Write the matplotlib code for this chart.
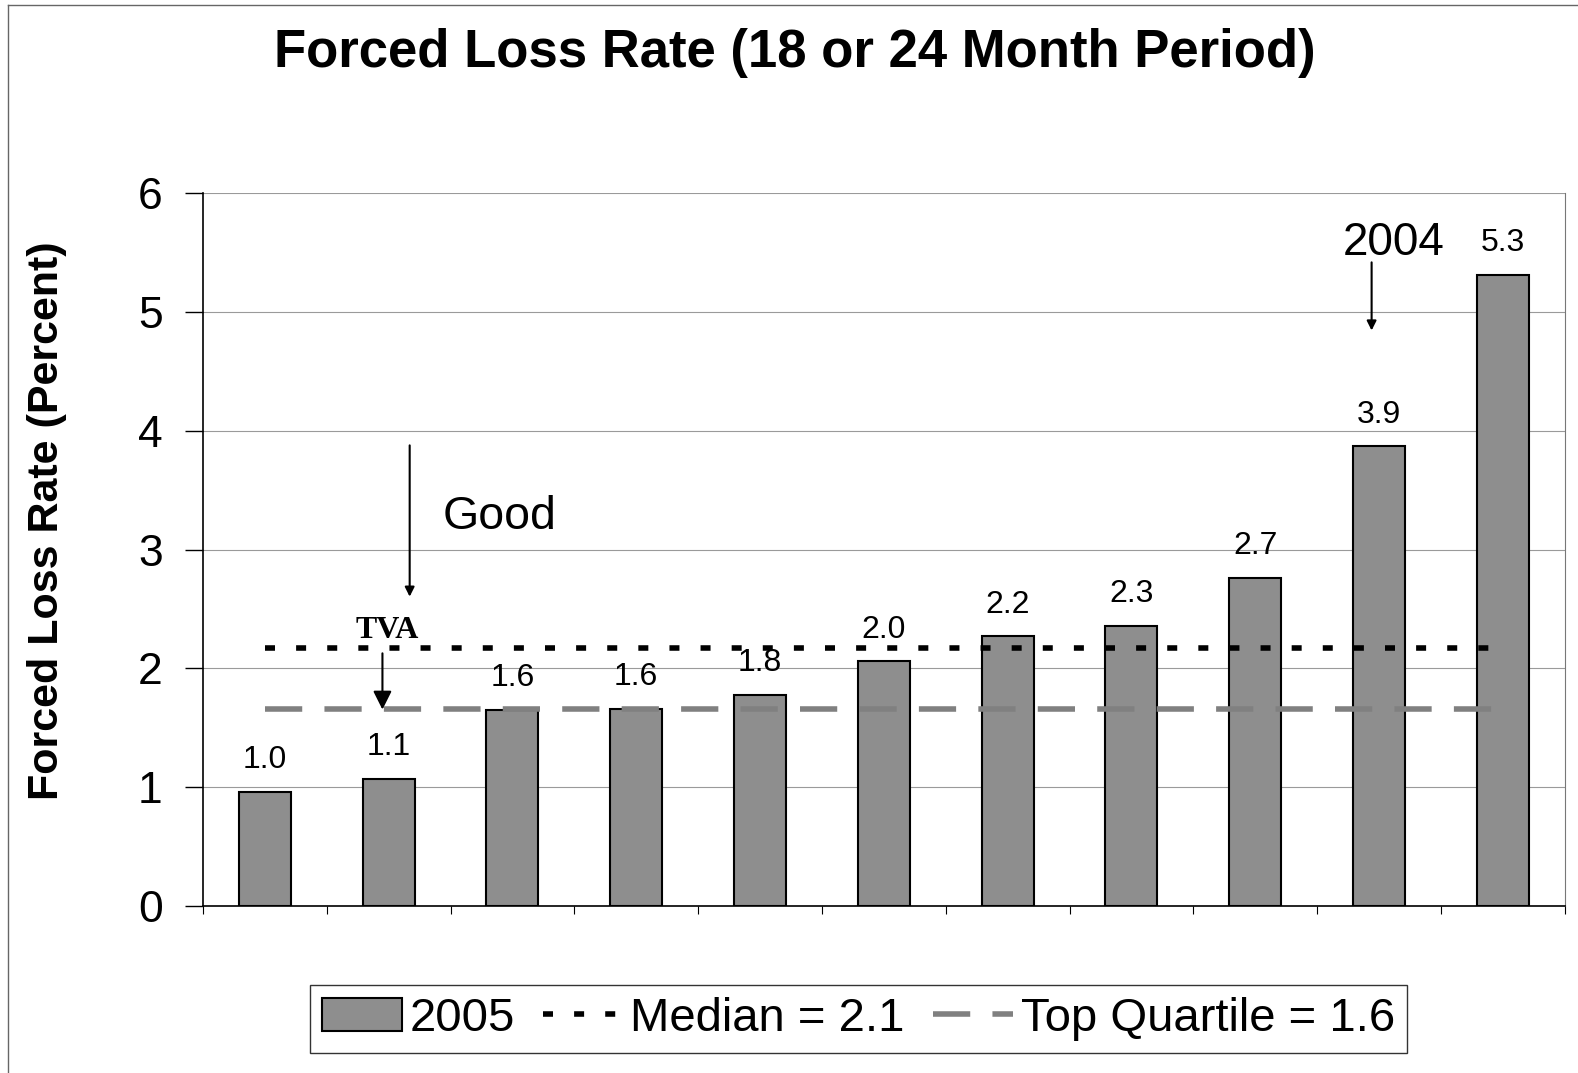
import matplotlib
matplotlib.use("Agg")
import matplotlib.pyplot as plt
from matplotlib.lines import Line2D
from matplotlib.patches import Patch
import numpy as np

plt.rcParams['font.family'] = ['Liberation Sans', 'DejaVu Sans']

values = [0.96, 1.07, 1.65, 1.66, 1.78, 2.06, 2.27, 2.36, 2.76, 3.87, 5.31]
labels = ["1.0", "1.1", "1.6", "1.6", "1.8", "2.0", "2.2", "2.3", "2.7", "3.9", "5.3"]
median_val = 2.17
top_quartile_val = 1.66
legend_labels = ["2005", "Median = 2.1", "Top Quartile = 1.6"]
title = "Forced Loss Rate (18 or 24 Month Period)"
ylabel = "Forced Loss Rate (Percent)"

MED_STYLE = (0, (1.8, 3.8))
TQ_STYLE = (0, (6.7, 4))

fig = plt.figure(figsize=(15.78, 10.73), dpi=100)
ax = fig.add_axes([0.1286, 0.1556, 0.863, 0.6645])

x = np.arange(len(values))
ax.bar(x, values, width=0.42, color="#8e8e8e", edgecolor="black", linewidth=1.5, zorder=3)
for xi, v, lab in zip(x, values, labels):
    ax.text(xi, v + 0.14, lab, ha="center", va="bottom", fontsize=23, zorder=5)

ax.plot([x[0], x[-1]], [median_val, median_val], color="black", linestyle=MED_STYLE,
        linewidth=4, zorder=4)
ax.plot([x[0], x[-1]], [top_quartile_val, top_quartile_val], color="#808080",
        linestyle=TQ_STYLE, linewidth=4, zorder=4)

ax.set_xlim(-0.5, len(values) - 0.5)
ax.set_ylim(0, 6)
ax.set_yticks(range(0, 7))
ax.tick_params(axis="y", labelsize=32, length=13, width=1, pad=16, direction="out")
ax.set_xticks(np.arange(-0.5, len(values), 1.0))
ax.set_xticklabels([])
ax.tick_params(axis="x", length=6, width=0.8, direction="out")
ax.yaxis.grid(True, color="#9a9a9a", linewidth=0.8, zorder=0)
ax.set_axisbelow(True)
ax.spines["top"].set_visible(False)
ax.spines["right"].set_color("#777777")
ax.spines["right"].set_linewidth(0.8)
ax.spines["left"].set_linewidth(1.2)
ax.spines["bottom"].set_linewidth(1.2)

ax.set_ylabel(ylabel, fontsize=31, fontweight="bold")
ax.yaxis.set_label_coords(-0.1, 0.54)

fig.text(0.5035, 0.951, title, ha="center", va="center", fontsize=38, fontweight="bold")

# annotations
ax.annotate("", xy=(1.17, 2.58), xytext=(1.17, 3.9),
            arrowprops=dict(arrowstyle="-|>", color="black", lw=1.5, mutation_scale=14))
ax.text(1.44, 3.27, "Good", fontsize=33.5, ha="left", va="center")
ax.text(0.99, 2.32, "TVA", fontsize=23, fontweight="bold", ha="center", va="center",
        family=["Liberation Serif", "DejaVu Serif"])
ax.annotate("", xy=(0.95, 1.63), xytext=(0.95, 2.15),
            arrowprops=dict(arrowstyle="-|>", color="black", lw=1.5, mutation_scale=28))
ax.text(9.12, 5.58, "2004", fontsize=33, ha="center", va="center")
ax.annotate("", xy=(8.94, 4.82), xytext=(8.94, 5.44),
            arrowprops=dict(arrowstyle="-|>", color="black", lw=1.5, mutation_scale=14))

handles = [
    Patch(facecolor="#8e8e8e", edgecolor="black", linewidth=1.5),
    Line2D([0], [0], color="black", linestyle=MED_STYLE, linewidth=4),
    Line2D([0], [0], color="#808080", linestyle=TQ_STYLE, linewidth=4),
]
leg = fig.legend(handles, legend_labels, loc="center", bbox_to_anchor=(0.544, 0.0505),
                 ncol=3, fontsize=34, frameon=True, fancybox=False, edgecolor="black",
                 handlelength=1.7, handletextpad=0.15, columnspacing=0.6,
                 borderpad=0.25, borderaxespad=0)
leg.get_frame().set_linewidth(1.0)

# figure border
fig.add_artist(Line2D([8/1578, 8/1578], [0, 1 - 5/1073], color="#666666", lw=1, transform=fig.transFigure))
fig.add_artist(Line2D([8/1578, 1], [1 - 5/1073, 1 - 5/1073], color="#666666", lw=1, transform=fig.transFigure))

fig.savefig("out.png", dpi=100)
